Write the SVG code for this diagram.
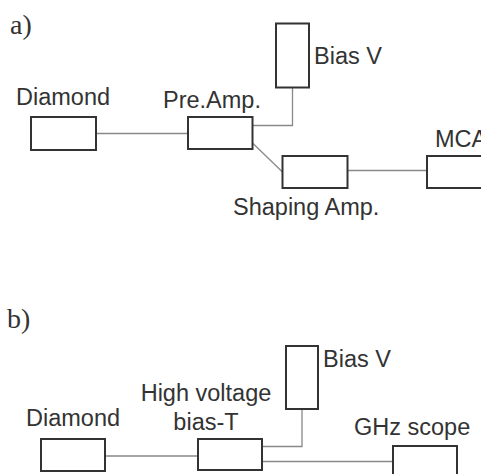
<svg xmlns="http://www.w3.org/2000/svg" width="481" height="474" viewBox="0 0 481 474">
<style>
.box{fill:#fff;stroke:#333;stroke-width:2}
.lbl{font-family:"Liberation Sans",Arial,sans-serif;font-size:23.5px;fill:#333}
.pan{font-family:"Liberation Serif","Times New Roman",serif;font-size:28px;fill:#333}
.wire{fill:none;stroke:#888;stroke-width:1.3}
</style>
<rect width="481" height="474" fill="#fff"/>
<text class="pan" x="10" y="34">a)</text>
<text class="pan" x="7" y="328">b)</text>
<g id="connectors">
<path class="wire" d="M96 133.5H188"/>
<path class="wire" d="M292.5 87.5V125.5H252.5"/>
<path class="wire" d="M252.5 143L282.5 172"/>
<path class="wire" d="M347 170.5H427"/>
<path class="wire" d="M105 456H198"/>
<path class="wire" d="M302 409V446.5H262"/>
<path class="wire" d="M262 461.5H393"/>
</g>
<g id="a-diamond"><rect class="box" x="31" y="117" width="65" height="33"/><text class="lbl" x="16" y="105">Diamond</text></g>
<g id="a-preamp"><rect class="box" x="188" y="117" width="64.5" height="32"/><text class="lbl" x="163" y="108">Pre.Amp.</text></g>
<g id="a-biasv"><rect class="box" x="276" y="23.5" width="33" height="64"/><text class="lbl" x="314" y="64">Bias V</text></g>
<g id="a-shaping"><rect class="box" x="282.5" y="156" width="65" height="32"/><text class="lbl" x="233" y="215">Shaping Amp.</text></g>
<g id="a-mca"><rect class="box" x="427" y="156" width="64" height="32"/><text class="lbl" x="435" y="147">MCA</text></g>
<g id="b-diamond"><rect class="box" x="41" y="439" width="64" height="32"/><text class="lbl" x="26" y="426">Diamond</text></g>
<g id="b-biast"><rect class="box" x="198" y="439" width="64" height="31"/><text class="lbl" x="206" y="401" text-anchor="middle">High voltage</text><text class="lbl" x="206" y="430" text-anchor="middle">bias-T</text></g>
<g id="b-biasv"><rect class="box" x="286" y="346" width="32" height="63"/><text class="lbl" x="323" y="367">Bias V</text></g>
<g id="b-scope"><rect class="box" x="393" y="446" width="64" height="40"/><text class="lbl" x="354" y="435">GHz scope</text></g>
</svg>
